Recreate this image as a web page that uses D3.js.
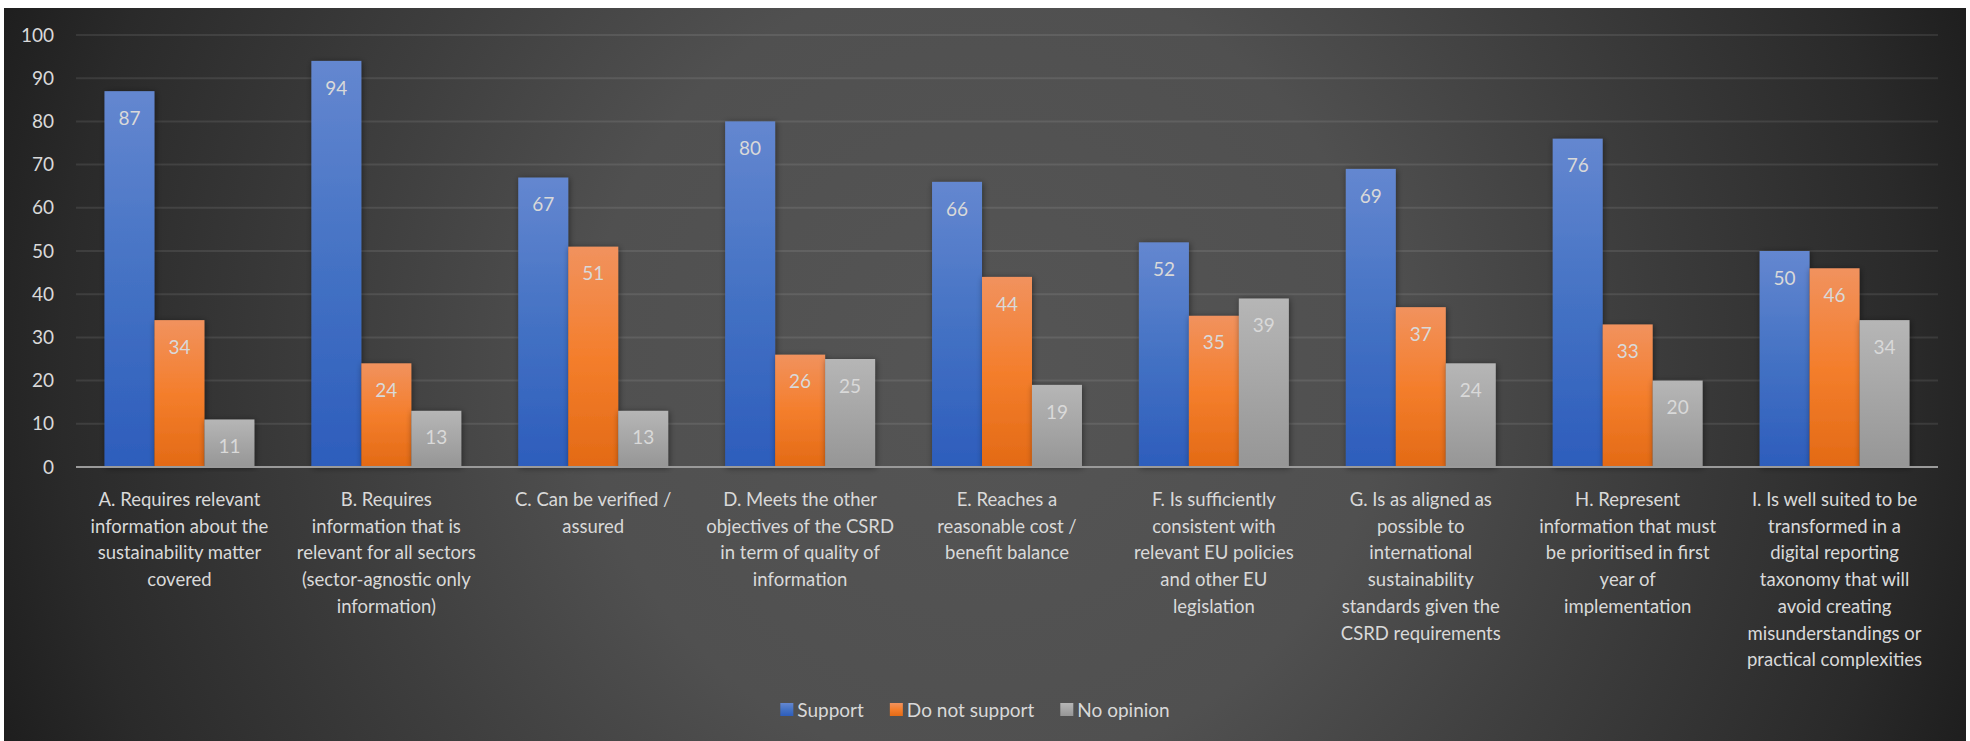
<!DOCTYPE html>
<html>
<head>
<meta charset="utf-8">
<script src="https://cdn.jsdelivr.net/npm/d3@7"></script>
<style>
  html, body { margin: 0; padding: 0; background: #ffffff; }
  svg { display: block; }
  text { font-family: Lato, "Open Sans", "Liberation Sans", sans-serif; fill: #d9d9d9; }
</style>
</head>
<body>
<svg id="chart" width="1970" height="741"></svg>
<script>
// Survey answers per criterion (percent of respondents)
const categories = [
  "A. Requires relevant\ninformation about the\nsustainability matter\ncovered",
  "B. Requires\ninformation that is\nrelevant for all sectors\n(sector-agnostic only\ninformation)",
  "C. Can be verified /\nassured",
  "D. Meets the other\nobjectives of the CSRD\nin term of quality of\ninformation",
  "E. Reaches a\nreasonable cost /\nbenefit balance",
  "F. Is sufficiently\nconsistent with\nrelevant EU policies\nand other EU\nlegislation",
  "G. Is as aligned as\npossible to\ninternational\nsustainability\nstandards given the\nCSRD requirements",
  "H. Represent\ninformation that must\nbe prioritised in first\nyear of\nimplementation",
  "I. Is well suited to be\ntransformed in a\ndigital reporting\ntaxonomy that will\navoid creating\nmisunderstandings or\npractical complexities"
];
const seriesNames = ["Support", "Do not support", "No opinion"];
const support      = [87, 94, 67, 80, 66, 52, 69, 76, 50];
const doNotSupport = [34, 24, 51, 26, 44, 35, 37, 33, 46];
const noOpinion    = [11, 13, 13, 25, 19, 39, 24, 20, 34];
const yTicks = [0, 10, 20, 30, 40, 50, 60, 70, 80, 90, 100];

const seriesValues = [support, doNotSupport, noOpinion];
const rows = categories.map((c, i) => ({
  category: c,
  values: seriesNames.map((s, k) => ({ series: s, value: seriesValues[k][i] }))
}));

const svg = d3.select("#chart");
const defs = svg.append("defs");

// Background: dark radial glow
const bg = defs.append("radialGradient").attr("id", "bgGrad")
  .attr("gradientUnits", "userSpaceOnUse")
  .attr("cx", 985).attr("cy", 370).attr("r", 1050);
[[0, "#555555"], [0.38, "#505050"], [0.61, "#3e3e3e"], [0.88, "#2a2a2a"], [1, "#1e1e1e"]]
  .forEach(([o, c]) => bg.append("stop").attr("offset", o).attr("stop-color", c));

// Bar fills: lighter at the top, deeper at the base
const barStops = {
  "Support":        ["#6487d0", "#4472c4", "#2d5dbc"],
  "Do not support": ["#f1925e", "#f47e2c", "#e36a15"],
  "No opinion":     ["#b6b6b6", "#a6a6a6", "#969696"]
};
seriesNames.forEach((s, k) => {
  const g = defs.append("linearGradient").attr("id", "barGrad" + k)
    .attr("x1", 0).attr("y1", 0).attr("x2", 0).attr("y2", 1);
  barStops[s].forEach((c, j) => g.append("stop").attr("offset", j / 2).attr("stop-color", c));
});

const shadow = defs.append("filter").attr("id", "barShadow")
  .attr("x", "-30%").attr("y", "-10%").attr("width", "160%").attr("height", "120%");
shadow.append("feDropShadow").attr("dx", 1).attr("dy", 1).attr("stdDeviation", 3)
  .attr("flood-color", "#000").attr("flood-opacity", 0.45);

svg.append("rect").attr("x", 4).attr("y", 8).attr("width", 1962).attr("height", 733)
  .attr("fill", "url(#bgGrad)");

// Scales
const plotLeft = 76, plotRight = 1938, plotTop = 35, plotBottom = 467;
const y = d3.scaleLinear().domain([0, 100]).range([plotBottom, plotTop]);
const x0 = d3.scaleBand().domain(categories).range([plotLeft, plotRight]).padding(0);
const x1 = d3.scaleBand().domain(seriesNames).range([0, x0.bandwidth()])
  .paddingInner(0).paddingOuter(0.57);
const fillOf = s => "url(#barGrad" + seriesNames.indexOf(s) + ")";

// Gridlines
svg.append("g").selectAll("line").data(yTicks.filter(t => t > 0)).join("line")
  .attr("x1", plotLeft).attr("x2", plotRight)
  .attr("y1", d => y(d)).attr("y2", d => y(d))
  .attr("stroke", "rgba(255,255,255,0.09)").attr("stroke-width", 2);

// Y axis labels
const yAxis = svg.append("g").attr("transform", `translate(${plotLeft},0)`)
  .call(d3.axisLeft(y).tickValues(yTicks).tickSize(0).tickPadding(22));
yAxis.select(".domain").remove();
yAxis.selectAll("text").attr("font-size", 19).attr("fill", "#d9d9d9")
  .style("font-family", 'Lato, "Open Sans", sans-serif');

// Bars
const groups = svg.append("g").selectAll("g").data(rows).join("g")
  .attr("transform", d => `translate(${x0(d.category)},0)`);

groups.selectAll("rect").data(d => d.values).join("rect")
  .attr("x", d => x1(d.series))
  .attr("y", d => y(d.value))
  .attr("width", x1.bandwidth())
  .attr("height", d => y(0) - y(d.value))
  .attr("fill", d => fillOf(d.series))
  .attr("filter", "url(#barShadow)");

// Value labels inside the bar tops
groups.selectAll("text.val").data(d => d.values).join("text")
  .attr("class", "val")
  .attr("x", d => x1(d.series) + x1.bandwidth() / 2)
  .attr("y", d => y(d.value) + 27)
  .attr("dy", "0.35em")
  .attr("text-anchor", "middle")
  .attr("font-size", 19)
  .attr("fill", "#dcdcdc")
  .text(d => d.value);

// Baseline
svg.append("line").attr("x1", plotLeft).attr("x2", plotRight)
  .attr("y1", y(0)).attr("y2", y(0))
  .attr("stroke", "#9a9a9a").attr("stroke-width", 2);

// Category labels
const catText = svg.append("g").selectAll("text").data(categories).join("text")
  .attr("x", d => x0(d) + x0.bandwidth() / 2)
  .attr("y", 506)
  .attr("text-anchor", "middle")
  .attr("font-size", 18.5);
catText.selectAll("tspan").data(d => d.split("\n")).join("tspan")
  .attr("x", function () { return this.parentNode.getAttribute("x"); })
  .attr("dy", (d, i) => i === 0 ? 0 : 26.7)
  .text(d => d);

// Legend
const legend = svg.append("g").attr("transform", "translate(0,710)");
const items = legend.selectAll("g").data(seriesNames).join("g");
items.append("rect").attr("x", 0).attr("y", -7).attr("width", 13).attr("height", 13)
  .attr("fill", d => fillOf(d));
items.append("text").attr("x", 17).attr("dy", "0.35em").attr("font-size", 19).text(d => d);
let cursor = 0;
const widths = [];
items.each(function () {
  const w = 17 + d3.select(this).select("text").node().getComputedTextLength();
  widths.push(w);
});
const total = d3.sum(widths) + 26 * (widths.length - 1);
cursor = 975 - total / 2;
items.each(function (d, i) {
  d3.select(this).attr("transform", `translate(${cursor},0)`);
  cursor += widths[i] + 26;
});
</script>
</body>
</html>
